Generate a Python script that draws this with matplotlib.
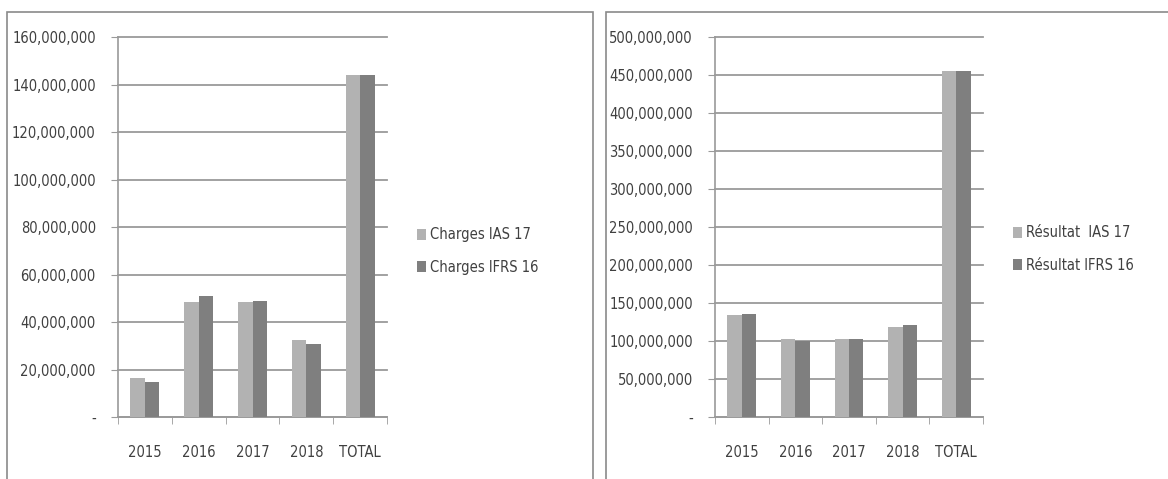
import matplotlib.pyplot as plt
import matplotlib.patches as mpatches
from matplotlib.ticker import FuncFormatter
import numpy as np

plt.rcParams['font.family'] = ['DejaVu Sans']
plt.rcParams['font.stretch'] = 'condensed'

categories = ['2015', '2016', '2017', '2018', 'TOTAL']
charges_ias17 = [16.3e6, 48.4e6, 48.4e6, 32.3e6, 144.0e6]
charges_ifrs16 = [14.6e6, 50.9e6, 48.8e6, 30.7e6, 144.0e6]
resultat_ias17 = [134e6, 102e6, 102e6, 119e6, 455.5e6]
resultat_ifrs16 = [136e6, 100e6, 102.5e6, 121e6, 455.5e6]

LIGHT = '#b2b2b2'
DARK = '#7f7f7f'
TEXT = '#404040'
GRID = '#9a9a9a'


def fmt(v, pos):
    if v == 0:
        return '-'
    return f'{v:,.0f}'


def draw_panel(fig, rect, border, s1, s2, labels, ymax, step, legend_pos):
    fig.add_artist(mpatches.Rectangle((border[0], border[1]), border[2], border[3],
                                      transform=fig.transFigure, fill=False,
                                      edgecolor='#8a8a8a', lw=1.2))
    ax = fig.add_axes(rect)
    x = np.arange(len(categories))
    w = 0.27
    b1 = ax.bar(x - w / 2, s1, w, color=LIGHT, label=labels[0], zorder=3)
    b2 = ax.bar(x + w / 2, s2, w, color=DARK, label=labels[1], zorder=3)
    ax.set_xlim(-0.5, len(categories) - 0.5)
    ax.set_ylim(0, ymax)
    ax.set_yticks(np.arange(0, ymax + 1, step))
    ax.yaxis.set_major_formatter(FuncFormatter(fmt))
    ax.yaxis.grid(True, color=GRID, lw=1.3, zorder=0)
    for gl in ax.get_ygridlines():
        gl.set_clip_on(False)
    ax.set_xticks(x)
    ax.set_xticklabels(categories)
    ax.set_xticks(np.arange(-0.5, len(categories)), minor=True)
    ax.tick_params(axis='x', which='major', length=0, pad=20, labelsize=10.5, labelcolor=TEXT)
    ax.tick_params(axis='x', which='minor', length=5, color=GRID, direction='out')
    ax.tick_params(axis='y', length=5, color=GRID, labelsize=10.5, labelcolor=TEXT, pad=11)
    for s in ['top', 'right']:
        ax.spines[s].set_visible(False)
    for s in ['left', 'bottom']:
        ax.spines[s].set_color(GRID)
        ax.spines[s].set_linewidth(1.2)
    fig.legend(handles=[b1, b2], labels=labels, loc='center left',
               bbox_to_anchor=legend_pos, frameon=False, fontsize=10.5,
               labelcolor=TEXT, handlelength=0.6, handleheight=0.8,
               handletextpad=0.3, labelspacing=1.2)
    return ax


fig = plt.figure(figsize=(11.68, 4.79), dpi=100)

draw_panel(fig, [118 / 1168, 1 - 417 / 479, 269 / 1168, 380 / 479],
           [7 / 1168, -0.05, 586 / 1168, 1.05 - 12 / 479],
           charges_ias17, charges_ifrs16, ['Charges IAS 17', 'Charges IFRS 16'],
           160e6, 20e6, (404 / 1168, 1 - 251 / 479))

draw_panel(fig, [715 / 1168, 1 - 417 / 479, 268 / 1168, 380 / 479],
           [606 / 1168, -0.05, 570 / 1168, 1.05 - 12 / 479],
           resultat_ias17, resultat_ifrs16, ['Résultat  IAS 17', 'Résultat IFRS 16'],
           500e6, 50e6, (1000 / 1168, 1 - 249 / 479))

fig.savefig('out.png', dpi=100)
